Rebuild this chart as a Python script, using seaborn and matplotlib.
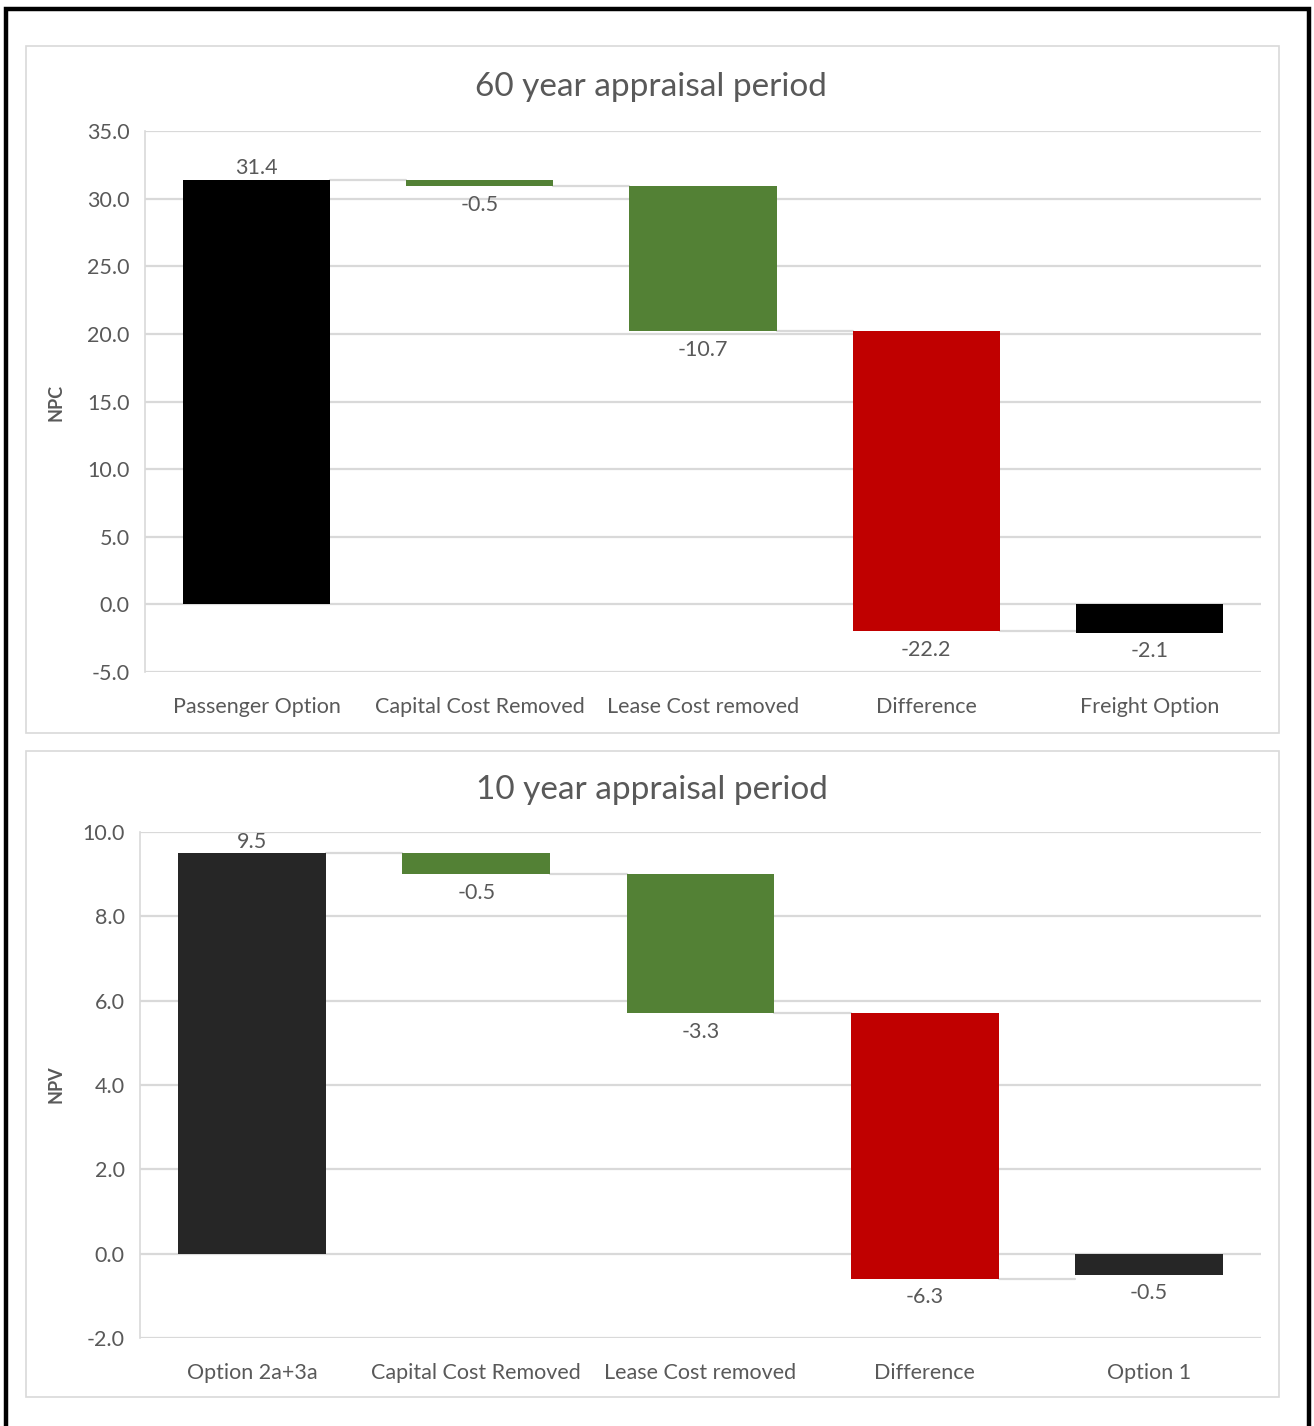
import matplotlib
matplotlib.use('Agg')
import matplotlib.pyplot as plt
from matplotlib.patches import Rectangle
import numpy as np
import pandas as pd
import seaborn as sns

# 60 year chart
cats_60 = ['Passenger Option', 'Capital Cost Removed', 'Lease Cost removed', 'Difference', 'Freight Option']
vals_60 = [31.4, -0.5, -10.7, -22.2, -2.1]
kinds_60 = ['total', 'delta', 'delta', 'delta', 'total']
colors_60 = ['#000000', '#538135', '#538135', '#C00000', '#000000']

# 10 year chart
cats_10 = ['Option 2a+3a', 'Capital Cost Removed', 'Lease Cost removed', 'Difference', 'Option 1']
vals_10 = [9.5, -0.5, -3.3, -6.3, -0.5]
kinds_10 = ['total', 'delta', 'delta', 'delta', 'total']
colors_10 = ['#262626', '#538135', '#538135', '#C00000', '#262626']

TEXT = '#595959'
GRID = '#d9d9d9'
W, H = 1314, 1426
FS = 15.5

sns.set_style('white')
plt.rcParams['font.family'] = ['Lato', 'DejaVu Sans']


def waterfall(ax, cats, vals, kinds, colors, ylim, yticks):
    bases, ends = [], []
    run = 0.0
    for v, k in zip(vals, kinds):
        base = 0.0 if k == 'total' else run
        bases.append(base)
        run = base + v
        ends.append(run)
    df = pd.DataFrame({'cat': cats, 'val': vals})
    sns.barplot(data=df, x='cat', y='val', hue='cat', order=cats, hue_order=cats,
                palette=colors, legend=False, width=0.66, ax=ax, saturation=1, zorder=3)
    for p, b in zip(ax.patches, bases):
        p.set_y(b)
        p.set_edgecolor('none')
    # connectors between bars
    half = 0.33
    for i in range(len(cats) - 1):
        ax.plot([i + half, i + 1 - half], [ends[i], ends[i]], color=GRID, lw=1.6, zorder=2)
    # data labels
    for i, (v, b, e) in enumerate(zip(vals, bases, ends)):
        if v >= 0:
            ax.annotate(f'{v:.1f}', (i, max(b, e)), xytext=(0, 1), textcoords='offset points',
                        ha='center', va='bottom', color=TEXT, fontsize=FS)
        else:
            ax.annotate(f'{v:.1f}', (i, min(b, e)), xytext=(0, -6), textcoords='offset points',
                        ha='center', va='top', color=TEXT, fontsize=FS)
    ax.set_xlim(-0.5, len(cats) - 0.5)
    ax.set_ylim(*ylim)
    ax.set_yticks(yticks)
    ax.set_yticklabels([f'{t:.1f}' for t in yticks])
    ax.yaxis.grid(True, color=GRID, lw=1.6, zorder=0)
    ax.set_axisbelow(True)
    ax.tick_params(axis='both', length=0, colors=TEXT, labelsize=FS)
    ax.tick_params(axis='y', pad=11)
    ax.tick_params(axis='x', pad=18)
    for s in ['top', 'right', 'bottom']:
        ax.spines[s].set_visible(False)
    ax.spines['left'].set_color(GRID)
    ax.spines['left'].set_linewidth(1.2)
    ax.set_xlabel('')
    ax.set_ylabel('')


fig = plt.figure(figsize=(W / 100, H / 100), dpi=100)

# panel frames
for (x0, y0, x1, y1) in [(26, 46, 1279, 733), (26, 751, 1279, 1397)]:
    fig.add_artist(Rectangle((x0 / W, 1 - y1 / H), (x1 - x0) / W, (y1 - y0) / H,
                             transform=fig.transFigure, fill=False, ec=GRID, lw=1.2))
# outer black border
fig.add_artist(Rectangle((6 / W, -0.01), 1303 / W, 1 - 9 / H + 0.01,
                         transform=fig.transFigure, fill=False, ec='black', lw=3.2))

ax1 = fig.add_axes([145 / W, 1 - 672 / H, 1116 / W, 541 / H])
waterfall(ax1, cats_60, vals_60, kinds_60, colors_60, (-5, 35), np.arange(-5, 35.1, 5))
ax2 = fig.add_axes([140 / W, 1 - 1338 / H, 1121 / W, 506 / H])
waterfall(ax2, cats_10, vals_10, kinds_10, colors_10, (-2, 10), np.arange(-2, 10.1, 2))

fig.text(651 / W, 1 - 87 / H, '60 year appraisal period', ha='center', va='center',
         fontsize=24, color=TEXT)
fig.text(652 / W, 1 - 790 / H, '10 year appraisal period', ha='center', va='center',
         fontsize=24, color=TEXT)
fig.text(56 / W, 1 - 402 / H, 'NPC', rotation=90, ha='center', va='center',
         fontsize=13, color=TEXT, fontweight='bold')
fig.text(56 / W, 1 - 1084 / H, 'NPV', rotation=90, ha='center', va='center',
         fontsize=13, color=TEXT, fontweight='bold')

fig.savefig('out.png', dpi=100, facecolor='white')
